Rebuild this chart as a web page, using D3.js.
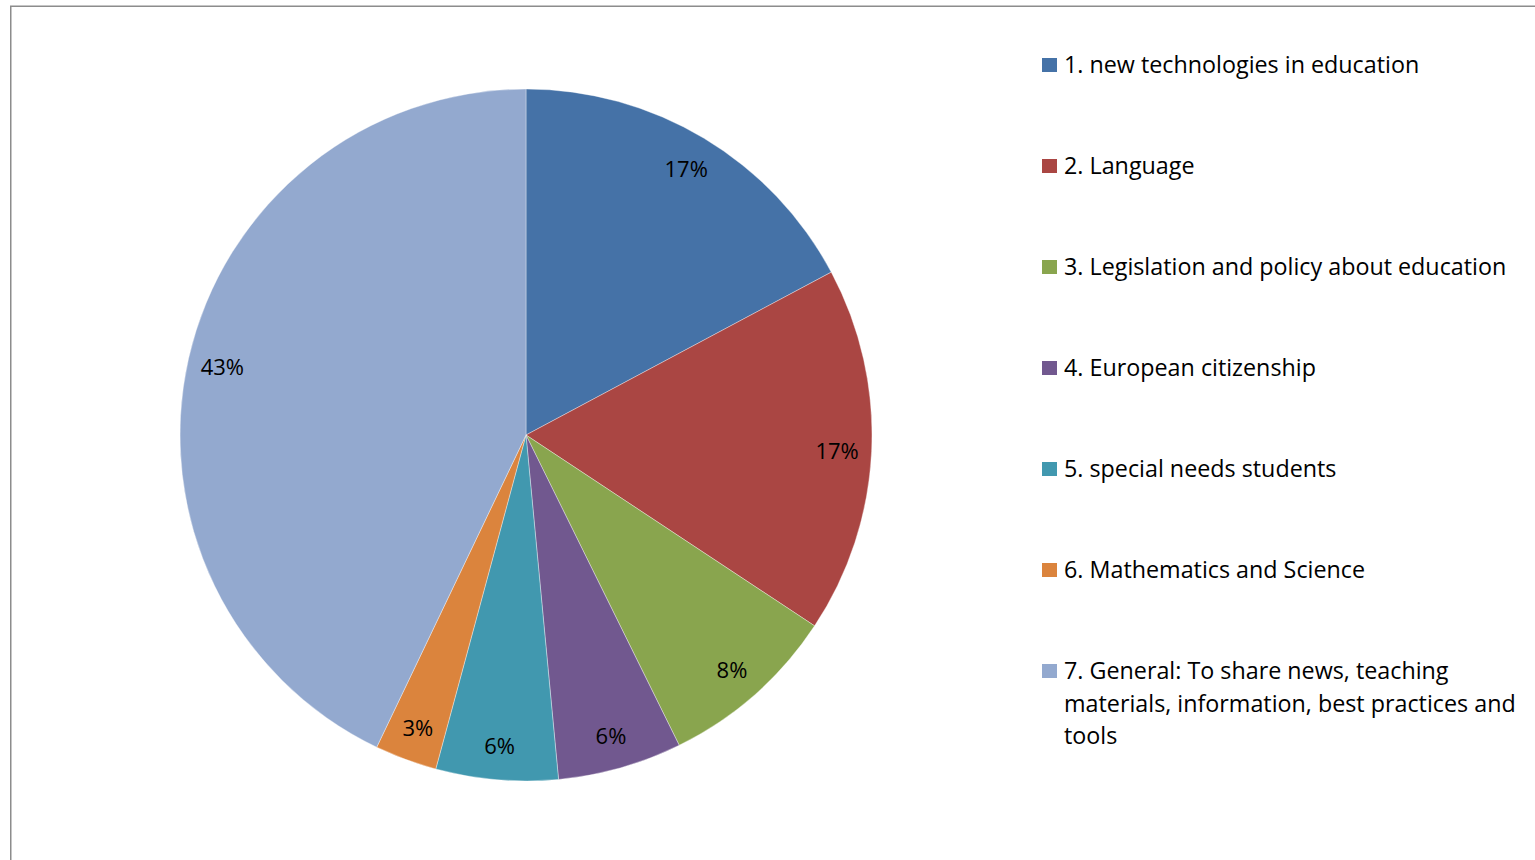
<!DOCTYPE html>
<html>
<head>
<meta charset="utf-8">
<script src="https://cdn.jsdelivr.net/npm/d3@7"></script>
<style>
  html, body { margin: 0; padding: 0; background: #fff; }
  svg { display: block; }
  text { font-family: "Open Sans", "Noto Sans", sans-serif; fill: #000; }
</style>
</head>
<body>
<svg id="chart" width="1535" height="860"></svg>
<script>
// Topics of interest (share of responses, %)
const categories = [
  "1. new technologies in education",
  "2. Language",
  "3. Legislation and policy about education",
  "4. European citizenship",
  "5. special needs students",
  "6. Mathematics and Science",
  "7. General: To share news, teaching materials, information, best practices and tools"
];
const shares = [17.2, 17.1, 8.4, 5.8, 5.7, 2.9, 42.9];
const percentLabels = ["17%", "17%", "8%", "6%", "6%", "3%", "43%"];
const colors = ["#4572A7", "#AA4643", "#89A54E", "#71588F", "#4198AF", "#DB843D", "#93A9CF"];

const svg = d3.select("#chart");

// chart frame (left and top edges visible)
svg.append("line").attr("x1", 10.75).attr("y1", 6).attr("x2", 10.75).attr("y2", 860)
  .attr("stroke", "#8c8c8c").attr("stroke-width", 1.5);
svg.append("line").attr("x1", 10).attr("y1", 6.25).attr("x2", 1535).attr("y2", 6.25)
  .attr("stroke", "#8c8c8c").attr("stroke-width", 1.5);

const cx = 526, cy = 435, r = 346;
const data = categories.map((c, i) => ({ name: c, value: shares[i], label: percentLabels[i], color: colors[i] }));

const pie = d3.pie().value(d => d.value).sort(null);
const arc = d3.arc().innerRadius(0).outerRadius(r);
const labelArc = d3.arc().innerRadius(r * 0.9).outerRadius(r * 0.9);

const g = svg.append("g").attr("transform", `translate(${cx},${cy})`);
const arcs = pie(data);

g.selectAll("path.slice").data(arcs).join("path")
  .attr("class", "slice")
  .attr("d", arc)
  .attr("fill", d => d.data.color)
  .attr("stroke", "#ffffff")
  .attr("stroke-width", 0.6)
  .attr("stroke-opacity", 0.6);

g.selectAll("text.pct").data(arcs).join("text")
  .attr("class", "pct")
  .attr("transform", d => `translate(${labelArc.centroid(d)})`)
  .attr("text-anchor", "middle")
  .attr("dominant-baseline", "central")
  .style("font-size", "22px")
  .text(d => d.data.label);

// legend
const legendX = 1042, legendY0 = 64, legendStep = 101, lineH = 32.5, wrapWidth = 458;
const legend = svg.append("g");
data.forEach((d, i) => {
  const y = legendY0 + i * legendStep;
  legend.append("rect")
    .attr("x", legendX).attr("y", y - 6).attr("width", 15).attr("height", 14)
    .attr("fill", d.color);
  const t = legend.append("text")
    .attr("x", legendX + 22).attr("y", y)
    .attr("dominant-baseline", "central")
    .style("font-size", "23.3px");
  // wrap long entries onto several lines
  const words = d.name.split(" ");
  let line = [];
  let tspan = t.append("tspan").attr("x", legendX + 22).attr("dy", 0);
  words.forEach(w => {
    line.push(w);
    tspan.text(line.join(" "));
    if (tspan.node().getComputedTextLength() > wrapWidth && line.length > 1) {
      line.pop();
      tspan.text(line.join(" "));
      line = [w];
      tspan = t.append("tspan").attr("x", legendX + 22).attr("dy", lineH).text(w);
    }
  });
});
</script>
</body>
</html>
